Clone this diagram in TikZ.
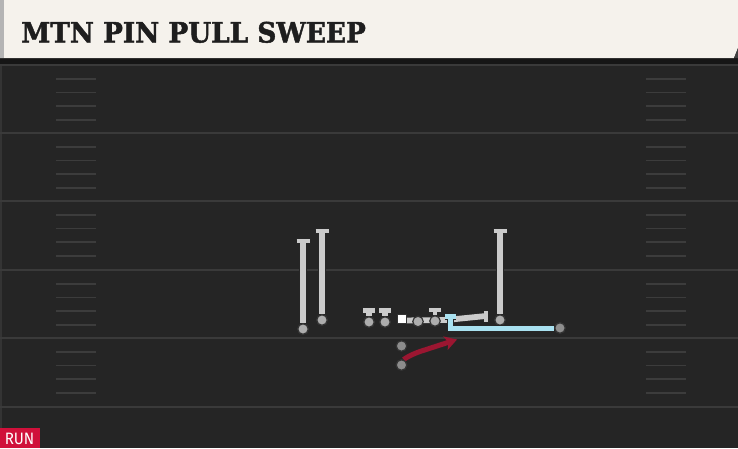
\documentclass[tikz,border=0pt]{standalone}
\usepackage{fontspec}
\usepackage{graphicx}
\setmainfont{DejaVu Serif}
\newfontfamily\titlefont[FakeBold=1.6]{DejaVu Serif Bold}
\newfontfamily\runfont{Fira Sans}
\usetikzlibrary{arrows.meta}
\definecolor{fieldbg}{HTML}{252525}
\definecolor{yardln}{HTML}{3A3A3A}
\definecolor{hashln}{HTML}{3C3C3C}
\definecolor{headbg}{HTML}{F5F2EC}
\definecolor{headedge}{HTML}{B4B4B4}
\definecolor{shadowbg}{HTML}{161616}
\definecolor{plgray}{HTML}{CBCBCB}
\definecolor{dotgray}{HTML}{8C8C8C}
\definecolor{routeblue}{HTML}{A9E1F0}
\definecolor{routered}{HTML}{9B1631}
\definecolor{runred}{HTML}{D0103A}
\definecolor{titlecol}{HTML}{1E1E1E}
\tikzset{
  x=1pt, y=-1pt,
  yard/.style={draw=yardln, line width=2.2pt},
  hashmark/.style={draw=hashln, line width=1.6pt},
  plout/.style={draw=black!85, line width=8.2pt},
  plin/.style={draw=plgray, line width=5.8pt},
  tout/.style={draw=black!85, line width=7pt},
  tin/.style={draw=plgray, line width=4.8pt},
  pdot/.style={circle, fill=plgray!85!black, draw=black!80, line width=1.2pt, minimum size=10.5pt, inner sep=0pt},
  sdot/.style={circle, fill=dotgray, draw=black!80, line width=1.2pt, minimum size=10.5pt, inner sep=0pt},
  blueout/.style={draw=black!85, line width=7pt},
  bluein/.style={draw=routeblue, line width=5pt},
}
\begin{document}
\begin{tikzpicture}
\useasboundingbox (0,0) rectangle (738,448);
% field
\fill[fieldbg] (0,0) rectangle (738,448);
\fill[shadowbg] (0,56) rectangle (738,64);
\fill[yardln!70!fieldbg] (0,64) rectangle (2,448);
% yard lines
\foreach \yy in {65,133,201,270,338,407} {
  \draw[yard] (0,\yy) -- (738,\yy);
}
% hash marks
\foreach \yb in {65,133,201,270,338} {
  \foreach \k in {1,2,3,4} {
    \pgfmathsetmacro\hy{\yb+\k*13.7}
    \ifdim\hy pt<430pt
      \draw[hashmark] (56,\hy) -- (96,\hy);
      \draw[hashmark] (646,\hy) -- (686,\hy);
    \fi
  }
}
% header
\fill[headbg] (0,0) -- (738,0) -- (738,48) -- (734,58) -- (0,58) -- cycle;
\fill[headedge] (0,0) rectangle (4,58);
\fill[gray!40!shadowbg] (738,48) -- (738,58) -- (734,58) -- cycle;
\node[anchor=base west, inner sep=0pt, text=titlecol] (title) at (21,42.5)
  {\scalebox{0.94}[1]{\fontsize{28}{28}\selectfont\titlefont MTN PIN PULL SWEEP}};
% RUN tag
\fill[runred] (0,428) rectangle (40,448);
\node[anchor=base, inner sep=0pt, text=white] (runlbl) at (19.5,444.5)
  {\scalebox{0.92}[1]{\runfont\fontsize{16.5}{16.5}\selectfont RUN}};

% receivers: vertical routes with T block ends
\foreach \name/\xx/\ytop/\ybot in {wra/303/241/329, wrb/322/231/320, wrc/500/231/320} {
  \coordinate (\name top) at (\xx,\ytop);
  \node[pdot] (\name) at (\xx,\ybot) {};
  \draw[plout] (\name) -- (\name top);
  \draw[tout] ([xshift=-7.5pt]\name top) -- ([xshift=7.5pt]\name top);
  \draw[plin] (\name) -- (\name top);
  \draw[tin] ([xshift=-6.5pt]\name top) -- ([xshift=6.5pt]\name top);
  \node[pdot] at (\name) {};
}
% linemen with short T blocks
\foreach \name/\xx in {lta/369, ltb/385} {
  \coordinate (\name top) at (\xx,310.5);
  \node[pdot] (\name) at (\xx,322) {};
  \draw[plout] (\name) -- (\name top);
  \draw[tout] ([xshift=-7pt]\name top) -- ([xshift=7pt]\name top);
  \draw[plin] (\name) -- (\name top);
  \draw[tin] ([xshift=-6pt]\name top) -- ([xshift=6pt]\name top);
  \node[pdot] at (\name) {};
}
% center and line to the right
\coordinate (cstart) at (402,320.5);
\coordinate (rlend) at (486,316);
\coordinate (rgt) at (435,310);
\node[pdot] (rga) at (418,321.5) {};
\node[pdot] (rgb) at (435,321) {};
\draw[plout] (cstart) -- (446,320) -- (rlend);
\draw[tout] (rgb) -- (rgt);
\draw[tout] ([xshift=-7pt]rgt) -- ([xshift=7pt]rgt);
\draw[tout] ([yshift=-6.5pt]rlend) -- ([yshift=6.5pt]rlend);
\draw[plin] (cstart) -- (446,320) -- (rlend);
\draw[tin] (rgb) -- (rgt);
\draw[tin] ([xshift=-6pt]rgt) -- ([xshift=6pt]rgt);
\draw[tin] ([yshift=-5.5pt]rlend) -- ([yshift=5.5pt]rlend);
\node[pdot] at (rga) {};
\node[pdot] at (rgb) {};
\node[draw=black!80, fill=white, line width=1pt, minimum size=9pt, inner sep=0pt] (ctr) at (401.5,318.5) {};

% pulling route (blue)
\coordinate (pa) at (445,316);
\coordinate (pb) at (456,316);
\coordinate (pc) at (450,316);
\coordinate (pd) at (450,328);
\node[sdot, fill=plgray!70!black] (pend) at (560,328) {};
\draw[blueout] (pa) -- (pb);
\draw[blueout] (pc) -- (pd) -- (pend);
\draw[bluein] (pa) -- (pb);
\draw[bluein] (pc) -- (pd) -- (pend);
\node[sdot, fill=plgray!70!black] at (pend) {};

% backs
\node[sdot] (qb) at (401.5,346) {};
\node[sdot] (rb) at (401.5,365) {};
\coordinate (rbend) at (457,339.5);
\draw[black!85, line width=7pt] (rb) .. controls (404,359) and (410,355) .. (420,351.5) -- (446,343);
\draw[routered, line width=5pt, -{Stealth[length=12pt,width=14pt,inset=3pt]}] (rb) .. controls (404,359) and (410,355) .. (420,351.5) -- (rbend);
\node[sdot] at (rb) {};
\end{tikzpicture}
\end{document}
